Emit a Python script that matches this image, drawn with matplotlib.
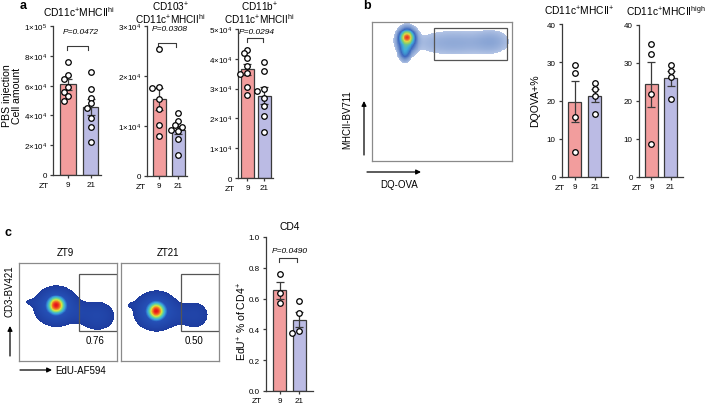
import numpy as np
import matplotlib
matplotlib.use('Agg')
import matplotlib.pyplot as plt
from matplotlib.colors import LinearSegmentedColormap
from matplotlib.patches import Rectangle

plt.rcParams['font.family'] = ['Liberation Sans', 'DejaVu Sans']
plt.rcParams['mathtext.fontset'] = 'custom'
plt.rcParams['mathtext.rm'] = 'Liberation Sans'
plt.rcParams['mathtext.it'] = 'Liberation Sans:italic'
plt.rcParams['mathtext.bf'] = 'Liberation Sans:bold'

# --- data ---
groups = ['9', '21']

# a: cell amounts after PBS injection
a1_zt9 = [7.6e4, 6.7e4, 6.45e4, 5.9e4, 5.6e4, 5.3e4, 5.0e4]
a1_zt21 = [6.9e4, 5.8e4, 5.15e4, 4.8e4, 4.5e4, 3.85e4, 3.25e4, 2.2e4]
a2_zt9 = [2.55e4, 1.78e4, 1.76e4, 1.54e4, 1.34e4, 1.02e4, 0.81e4]
a2_zt21 = [1.26e4, 1.1e4, 1.02e4, 0.98e4, 0.93e4, 0.9e4, 0.75e4, 0.42e4]
a3_zt9 = [4.3e4, 4.18e4, 4.02e4, 3.77e4, 3.52e4, 3.49e4, 3.06e4, 2.79e4]
a3_zt21 = [3.88e4, 3.6e4, 2.99e4, 2.93e4, 2.67e4, 2.43e4, 2.09e4, 1.55e4]
a_pvals = ['P=0.0472', 'P=0.0308', 'P=0.0294']

# b: DQ-OVA+ %
b1_zt9 = [29.2, 27.3, 15.6, 6.6]
b1_zt21 = [24.5, 23.1, 21.2, 16.4]
b2_zt9 = [34.9, 32.3, 21.8, 8.7]
b2_zt21 = [29.4, 27.8, 26.2, 20.5]

# c: EdU+ % of CD4+
c_zt9 = [0.76, 0.635, 0.57]
c_zt21 = [0.583, 0.504, 0.391, 0.374]
c_pval = 'P=0.0490'
c_gate_pct = ['0.76', '0.50']

# flow populations: (x centre, y centre, x spread, y spread, weight), axes 0-100
flow_b_pops = [(25, 89, 2.3, 2.3, 1.0), (25, 87, 3.5, 4.5, 0.3), (23.5, 79, 2.2, 3.5, 0.15),
               (58, 85, 19, 6, 0.02), (86, 86, 8, 5.5, 0.017)]
flow_zt9_pops = [(38, 57, 4.0, 4.0, 1.0), (38, 56, 8.5, 7.5, 0.12), (80, 46, 9, 7.5, 0.014),
                 (60, 50, 8, 6, 0.01), (14, 60, 6, 2.5, 0.004)]
flow_zt21_pops = [(36, 51, 4.0, 4.0, 1.0), (36, 51, 8.5, 7.5, 0.12), (75, 47, 8, 7.5, 0.009),
                  (57, 48, 7, 6, 0.008), (12, 57, 5, 2.5, 0.0035)]

RED = '#f29d9d'
BLUE = '#bbbbe4'
EDGE = '#3a3a3a'

W, H = 706, 406
fig = plt.figure(figsize=(W / 100, H / 100), dpi=100)


def ax_px(l, t, r, b):
    return fig.add_axes([l / W, 1 - b / H, (r - l) / W, (b - t) / H])


def swarm(vals, py, px, diam=6.0):
    placed = []
    offs = np.zeros(len(vals))
    for i in np.argsort(vals)[::-1]:
        y = vals[i] * py
        x = 0.0
        for k in [0, -1, 1, -2, 2]:
            x = k * diam * 0.6
            if all((x - qx) ** 2 + (y - qy) ** 2 >= (diam * 0.8) ** 2 for qx, qy in placed):
                break
        placed.append((x, y))
        offs[i] = x / px
    return offs


def bar_chart(box, xlim, ymax, yticks, ylabels, zt9, zt21, bw=0.68):
    l, t, r, b = box
    ax = ax_px(l, t, r, b)
    data = [np.array(zt9), np.array(zt21)]
    means = [d.mean() for d in data]
    sems = [d.std(ddof=1) / np.sqrt(len(d)) for d in data]
    ax.bar([0, 1], means, width=bw, color=[RED, BLUE], edgecolor=EDGE, linewidth=0.9, zorder=2)
    ax.errorbar([0, 1], means, yerr=sems, fmt='none', ecolor=EDGE, elinewidth=0.9,
                capsize=2.6, capthick=0.9, zorder=3)
    py = (b - t) / ymax
    px = (r - l) / (xlim[1] - xlim[0])
    for i, d in enumerate(data):
        ax.scatter(i + swarm(d, py, px), d, s=16, facecolor='white', edgecolor='black',
                   linewidth=0.9, zorder=4, clip_on=False)
    ax.set_xlim(xlim)
    ax.set_ylim(0, ymax)
    ax.set_yticks(yticks)
    ax.set_yticklabels(ylabels)
    ax.set_xticks([0, 1])
    ax.set_xticklabels(groups)
    for s in ['top', 'right']:
        ax.spines[s].set_visible(False)
    for s in ['left', 'bottom']:
        ax.spines[s].set_linewidth(0.9)
        ax.spines[s].set_color(EDGE)
    ax.tick_params(length=2.5, width=0.9, color=EDGE, labelsize=5.8, pad=2)
    return ax


def pbracket(ax, ytext, ybr, text, xt=0.55):
    tick = ax.get_ylim()[1] * 0.025
    ax.plot([-0.05, -0.05, 0.9, 0.9], [ybr - tick, ybr, ybr, ybr - tick], color=EDGE,
            lw=0.8, clip_on=False)
    ax.text(xt, ytext, text, ha='center', va='center', fontsize=6, style='italic', clip_on=False)


def flow(box, pops, gate, cmap, thresh):
    ax = ax_px(*box)
    xs = np.linspace(0, 100, 301)
    X, Y = np.meshgrid(xs, xs)
    Z = np.zeros_like(X)
    for cx, cy, sx, sy, w in pops:
        Z += w * np.exp(-((X - cx) ** 2 / (2 * sx ** 2) + (Y - cy) ** 2 / (2 * sy ** 2)))
    Z = Z / Z.max()
    Zm = np.ma.masked_less(Z, thresh)
    ax.pcolormesh(X, Y, np.log10(Zm), cmap=cmap, vmin=np.log10(thresh), vmax=0,
                  shading='auto', rasterized=True)
    ax.add_patch(Rectangle((gate[0], gate[1]), gate[2] - gate[0], gate[3] - gate[1],
                           fill=False, ec='#555555', lw=0.9))
    ax.set_xlim(0, 100)
    ax.set_ylim(0, 100)
    ax.set_xticks([])
    ax.set_yticks([])
    for s in ax.spines.values():
        s.set_color('#8a8a8a')
        s.set_linewidth(0.9)
    return ax


sci = lambda m, e: r'$\mathregular{%d{\times}10^{%d}}$' % (m, e) if m else '0'

# ---------------- panel a ----------------
ax1 = bar_chart((53, 27, 101, 176), (-0.65, 1.45), 1e5, [0, 2e4, 4e4, 6e4, 8e4, 1e5],
                ['0', sci(2, 4), sci(4, 4), sci(6, 4), sci(8, 4), sci(1, 5)], a1_zt9, a1_zt21)
pbracket(ax1, 9.65e4, 8.66e4, a_pvals[0])
ax2 = bar_chart((147, 27, 187, 177), (-0.63, 1.45), 3e4, [0, 1e4, 2e4, 3e4],
                ['0', sci(1, 4), sci(2, 4), sci(3, 4)], a2_zt9, a2_zt21)
pbracket(ax2, 2.95e4, 2.66e4, a_pvals[1])
ax3 = bar_chart((238, 30, 273, 179), (-0.55, 1.5), 5e4, [0, 1e4, 2e4, 3e4, 4e4, 5e4],
                ['0', sci(1, 4), sci(2, 4), sci(3, 4), sci(4, 4), sci(5, 4)], a3_zt9, a3_zt21,
                bw=0.76)
pbracket(ax3, 4.93e4, 4.7e4, a_pvals[2])

# ---------------- panel b ----------------
cmap_b = LinearSegmentedColormap.from_list('b', [(0, '#b3c4e5'), (0.3, '#7b9acf'), (0.5, '#3d67bd'),
                                                 (0.66, '#40aedb'), (0.78, '#7ccf72'),
                                                 (0.9, '#e4d443'), (1, '#e83a22')])
flow((372, 23, 512, 162), flow_b_pops, (44.3, 72.5, 96.6, 96), cmap_b, 0.006)
bx1 = bar_chart((562, 25, 608, 178), (-0.625, 1.65), 40, [0, 10, 20, 30, 40],
                ['0', '10', '20', '30', '40'], b1_zt9, b1_zt21, bw=0.65)
bx2 = bar_chart((639, 26, 683, 178), (-0.65, 1.65), 40, [0, 10, 20, 30, 40],
                ['0', '10', '20', '30', '40'], b2_zt9, b2_zt21, bw=0.67)

# ---------------- panel c ----------------
cmap_c = LinearSegmentedColormap.from_list('c', [(0, '#1e3c9e'), (0.55, '#2550b6'), (0.68, '#39a2de'),
                                                 (0.78, '#62d29c'), (0.87, '#dde33a'),
                                                 (0.94, '#f27322'), (1, '#e6141c')])
flow((19, 264, 117, 362), flow_zt9_pops, (61.2, 30.8, 100, 88.3), cmap_c, 0.002)
flow((121, 264, 219, 362), flow_zt21_pops, (60.8, 30.8, 100, 88.3), cmap_c, 0.002)
cx = bar_chart((266, 238, 313, 392), (-0.69, 1.7), 1.0, [0, 0.2, 0.4, 0.6, 0.8, 1.0],
               ['0.0', '0.2', '0.4', '0.6', '0.8', '1.0'], c_zt9, c_zt21, bw=0.67)
pbracket(cx, 0.91, 0.865, c_pval, xt=0.5)

# ---------------- text overlay ----------------
ov = fig.add_axes([0, 0, 1, 1])
ov.set_xlim(0, W)
ov.set_ylim(H, 0)
ov.axis('off')

for x, y, s in [(23, 6, 'a'), (367, 6, 'b'), (8, 233, 'c')]:
    ov.text(x, y, s, fontsize=9, fontweight='bold', ha='center', va='center')

hi = r'CD11c$^{\mathregular{+}}$MHCII$^{\mathregular{hi}}$'
tfs = 7.4
ov.text(79, 12, hi, fontsize=tfs, ha='center', va='center')
ov.text(170, 13.5, r'CD103$^{\mathregular{+}}$' + '\n' + hi, fontsize=7.2, ha='center',
        va='center', multialignment='center', linespacing=0.88)
ov.text(259, 13.5, r'CD11b$^{\mathregular{+}}$' + '\n' + hi, fontsize=7.2, ha='center',
        va='center', multialignment='center', linespacing=0.88)
ov.text(579, 11, r'CD11c$^{\mathregular{+}}$MHCII$^{\mathregular{+}}$', fontsize=tfs,
        ha='center', va='center')
ov.text(666, 11, r'CD11c$^{\mathregular{+}}$MHCII$^{\mathregular{high}}$', fontsize=tfs,
        ha='center', va='center')
ov.text(290, 227, 'CD4', fontsize=tfs, ha='center', va='center')

ov.text(12, 96, 'PBS injection\nCell amount', fontsize=7.6, rotation=90, ha='center',
        va='center', linespacing=1.0)
ov.text(535, 101, 'DQOVA+%', fontsize=7.6, rotation=90, ha='center', va='center')
ov.text(242, 322, r'EdU$^{\mathregular{+}}$ % of CD4$^{\mathregular{+}}$', fontsize=7.6,
        rotation=90, ha='center', va='center')

for x, y in [(44, 186.5), (141, 187.5), (230, 189.5), (560, 188.5), (637, 188.5), (257, 402)]:
    ov.text(x, y, 'ZT', fontsize=6, ha='center', va='center')

# flow labels
ov.text(347, 120, 'MHCII-BV711', fontsize=7, rotation=90, ha='center', va='center')
ov.text(399, 185, 'DQ-OVA', fontsize=7, ha='center', va='center')
ov.text(65, 253, 'ZT9', fontsize=7, ha='center', va='center')
ov.text(168, 253, 'ZT21', fontsize=7, ha='center', va='center')
ov.text(95, 341, c_gate_pct[0], fontsize=7, ha='center', va='center')
ov.text(194, 341, c_gate_pct[1], fontsize=7, ha='center', va='center')
ov.text(10, 291, 'CD3-BV421', fontsize=7, rotation=90, ha='center', va='center')
ov.text(55, 371, 'EdU-AF594', fontsize=7, ha='left', va='center')

arrow = dict(arrowstyle='-|>', color='black', lw=0.9, mutation_scale=7, shrinkA=0, shrinkB=0)
ov.annotate('', xy=(364, 102), xytext=(364, 156), arrowprops=arrow)
ov.annotate('', xy=(421, 173), xytext=(367, 173), arrowprops=arrow)
ov.annotate('', xy=(10, 327), xytext=(10, 357), arrowprops=arrow)
ov.annotate('', xy=(52, 371), xytext=(20, 371), arrowprops=arrow)

fig.savefig('out.png', dpi=100)
